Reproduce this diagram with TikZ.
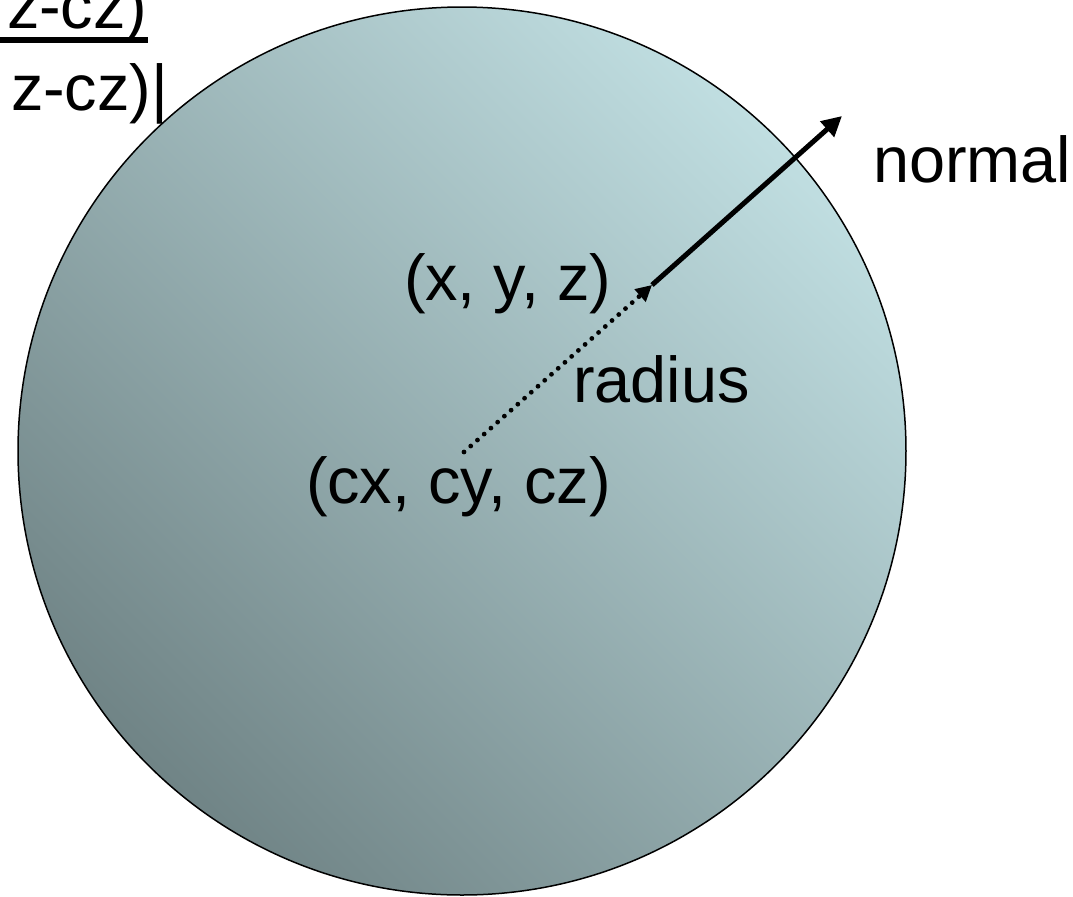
\documentclass[tikz,border=0pt]{standalone}
\usepackage{fontspec}
\setmainfont{Liberation Sans}
\usetikzlibrary{arrows.meta}
\definecolor{sphlight}{RGB}{192,222,225}
\definecolor{sphdark}{RGB}{112,132,134}
\begin{document}
\begin{tikzpicture}[x=0.5pt,y=-0.5pt,
  lbl/.style={inner sep=0pt, outer sep=0pt, anchor=base west, font=\fontsize{32.4}{39}\selectfont},
  sphere/.style={circle, draw=black, line width=0.75pt, minimum size=444pt, inner sep=0pt,
    bottom color=sphdark, top color=sphlight, shading angle=-45},
  dotline/.style={line width=2.4pt, line cap=round, dash pattern=on 0pt off 4.5pt},
  thickarrow/.style={line width=2.5pt, -{Triangle[length=10pt,width=10pt]}}]
\useasboundingbox (0,0) rectangle (1073,896);
\node[sphere] (sph) at (462,451) {};
\coordinate (C) at (464,452);
\coordinate (P) at (652,285);
\coordinate (N) at (842,116);
\draw[dotline, -{Triangle[length=8pt,width=8pt]}] (C) -- (P);
\draw[thickarrow] (P) -- (N);
\node[lbl] (xyz) at (404,300) {(x, y, z)};
\node[lbl] (cxyz) at (306,503) {(cx, cy, cz)};
\node[lbl] (rad) at (573,402) {radius};
\node[lbl] (nrm) at (873,182) {normal};
\node[lbl] (eqa) at (7,28) {z-cz)};
\node[lbl] (eqb) at (11,110) {z-cz)|};
\draw[line width=3pt] (0,40) -- (148,40);
\end{tikzpicture}
\end{document}
